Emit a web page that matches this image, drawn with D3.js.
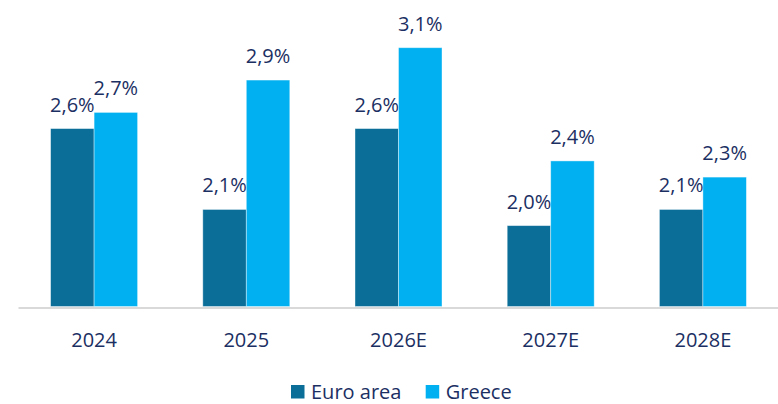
<!DOCTYPE html>
<html>
<head>
<meta charset="utf-8">
<script src="https://cdn.jsdelivr.net/npm/d3@7"></script>
<style>
  body { margin: 0; background: #fff; }
  text { font-family: "Open Sans", sans-serif; }
</style>
</head>
<body>
<div id="chart"></div>
<script>
'use strict';

var years = ['2024', '2025', '2026E', '2027E', '2028E'];
var seriesNames = ['Euro area', 'Greece'];
var euroArea = [2.6, 2.1, 2.6, 2.0, 2.1];
var greece = [2.7, 2.9, 3.1, 2.4, 2.3];
var colors = ['#0b6e99', '#00b0f0'];

var chart = {};
chart.w = 778;
chart.h = 404;
chart.baseY = 306.5;
chart.textColor = '#1b2f63';

var svg = d3.select('#chart').append('svg')
    .attr('width', chart.w)
    .attr('height', chart.h);

var xScale = d3.scaleBand().domain(years).range([18, 779]).paddingInner(0).paddingOuter(0);
var subScale = d3.scaleBand().domain(seriesNames).range([0, 87]);
var yScale = d3.scaleLinear().domain([1.5, 3.1]).range([chart.baseY, 47.7]);

var rows = years.map(function (y, i) {
    return {year: y, vals: [euroArea[i], greece[i]]};
});

var groups = svg.selectAll('g.grp').data(rows).enter().append('g')
    .attr('class', 'grp')
    .attr('transform', function (d) {
        return 'translate(' + (xScale(d.year) + xScale.bandwidth() / 2 - 43.5) + ',0)';
    });

groups.selectAll('rect').data(function (d) {
    return d.vals.map(function (v, k) { return {name: seriesNames[k], v: v, k: k}; });
}).enter().append('rect')
    .attr('x', function (d) { return subScale(d.name); })
    .attr('width', subScale.bandwidth())
    .attr('y', function (d) { return yScale(d.v); })
    .attr('height', function (d) { return chart.baseY - yScale(d.v); })
    .attr('fill', function (d) { return colors[d.k]; })
    .attr('stroke', 'rgba(255,255,255,0.5)')
    .attr('stroke-width', 0.8);

groups.selectAll('text').data(function (d) {
    return d.vals.map(function (v, k) { return {name: seriesNames[k], v: v, k: k}; });
}).enter().append('text')
    .attr('x', function (d) { return subScale(d.name) + subScale.bandwidth() / 2; })
    .attr('y', function (d) { return yScale(d.v) - 17; })
    .attr('text-anchor', 'middle')
    .attr('font-size', 20)
    .attr('fill', chart.textColor)
    .text(function (d) { return d.v.toFixed(1).replace('.', ',') + '%'; });

// baseline axis
var xAxis = d3.axisBottom(xScale).tickSize(0).tickPadding(0);
var axisG = svg.append('g')
    .attr('transform', 'translate(0,' + (chart.baseY + 1) + ')')
    .call(xAxis);
axisG.select('.domain').attr('stroke', '#d9d9d9').attr('stroke-width', 2);
axisG.selectAll('.tick text')
    .attr('font-size', 20)
    .attr('fill', chart.textColor)
    .attr('dy', 0)
    .attr('y', 39)
    .style('font-family', '"Open Sans", sans-serif');

// legend
var legendX = [291, 425.7];
var legend = svg.append('g').attr('class', 'legend');
seriesNames.forEach(function (n, i) {
    legend.append('rect')
        .attr('x', legendX[i]).attr('y', 385)
        .attr('width', 13.5).attr('height', 13.5)
        .attr('fill', colors[i]);
    legend.append('text')
        .attr('x', legendX[i] + 20).attr('y', 399)
        .attr('font-size', 20)
        .attr('fill', chart.textColor)
        .text(n);
});
</script>
</body>
</html>
